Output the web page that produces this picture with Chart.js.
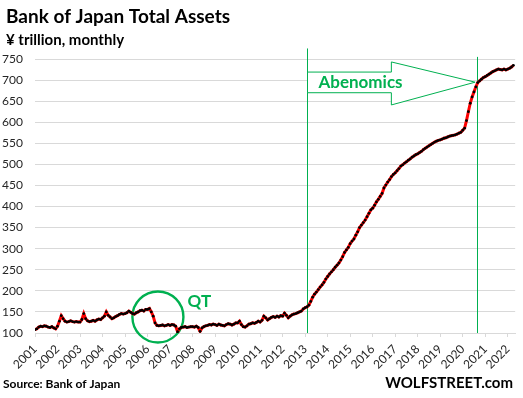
<!DOCTYPE html>
<html>
<head>
<meta charset="utf-8">
<script src="https://cdn.jsdelivr.net/npm/chart.js@4.4.0/dist/chart.umd.min.js"></script>
<style>
  html, body { margin: 0; padding: 0; background: #fff; }
  #wrap { position: relative; width: 523px; height: 398px; }
</style>
</head>
<body>
<div id="wrap"><canvas id="boj-chart"></canvas></div>
<script>
// Bank of Japan total assets, ¥ trillion, monthly (Jan 2001 - Apr 2022)
var startYear = 2001;
var yearTicks = [2001, 2002, 2003, 2004, 2005, 2006, 2007, 2008, 2009, 2010, 2011,
                 2012, 2013, 2014, 2015, 2016, 2017, 2018, 2019, 2020, 2021, 2022];
var valueTicks = [100, 150, 200, 250, 300, 350, 400, 450, 500, 550, 600, 650, 700, 750];

var assets2001 = [108, 110, 114, 116, 115, 117, 116, 114, 113, 115, 112, 110];
var assets2002 = [116, 128, 141, 134, 128, 126, 127, 129, 127, 126, 127, 126];
var assets2003 = [126, 132, 146, 134, 129, 127, 128, 130, 128, 131, 133, 132];
var assets2004 = [136, 140, 150, 142, 138, 134, 136, 139, 141, 144, 146, 145];
var assets2005 = [146, 148, 152, 149, 146, 145, 148, 150, 153, 154, 152, 156];
var assets2006 = [156, 158, 150, 140, 124, 118, 117, 118, 119, 117, 118, 120];
var assets2007 = [118, 120, 119, 116, 103, 110, 113, 114, 115, 113, 114, 115];
var assets2008 = [115, 114, 116, 113, 104, 112, 115, 117, 118, 120, 119, 121];
var assets2009 = [120, 118, 121, 119, 118, 117, 120, 122, 121, 119, 121, 124];
var assets2010 = [124, 128, 120, 115, 114, 117, 121, 122, 124, 123, 125, 128];
var assets2011 = [126, 130, 140, 136, 131, 134, 137, 139, 137, 140, 138, 141];
var assets2012 = [140, 147, 142, 136, 140, 143, 145, 146, 148, 150, 152, 157];
var assets2013 = [160, 162, 166, 175, 185, 192, 197, 203, 209, 214, 220, 228];
var assets2014 = [234, 240, 245, 250, 256, 261, 266, 273, 281, 291, 297, 303];
var assets2015 = [312, 318, 323, 332, 340, 350, 356, 362, 368, 376, 384, 392];
var assets2016 = [396, 403, 411, 417, 424, 431, 444, 451, 458, 464, 471, 476];
var assets2017 = [480, 485, 490, 496, 499, 503, 506, 510, 513, 517, 520, 523];
var assets2018 = [525, 528, 531, 535, 538, 541, 544, 547, 550, 553, 555, 557];
var assets2019 = [558, 560, 562, 563, 565, 567, 568, 569, 570, 572, 574, 576];
var assets2020 = [581, 586, 604, 625, 645, 660, 672, 684, 694, 698, 702, 706];
var assets2021 = [708, 711, 714, 717, 720, 722, 724, 726, 725, 724, 726, 724];
var assets2022 = [726, 728, 731, 735];

// annotation anchors, in (year, ¥ trillion)
var qtMark = { x: 2006.46, y: 138, label: "QT", labelX: 2008.3, labelY: 174 };
var abeStart = { x: 2013.1, top: 775 };
var abeEnd = { x: 2020.64, top: 755 };
var abeArrow = { headX: 2016.83, bodyTop: 719, bodyBottom: 670, headTop: 743, headBottom: 641, tipY: 695, label: "Abenomics" };

var green = "#00b050";

var allAssets = [].concat(assets2001, assets2002, assets2003, assets2004, assets2005,
  assets2006, assets2007, assets2008, assets2009, assets2010, assets2011, assets2012,
  assets2013, assets2014, assets2015, assets2016, assets2017, assets2018, assets2019,
  assets2020, assets2021, assets2022);

var points = allAssets.map(function (v, i) {
  return { x: startYear + i / 12, y: v };
});

var annotations = {
  id: "annotations",
  beforeDatasetsDraw: function (chart) {
    var ctx = chart.ctx;
    var xs = chart.scales.x, ys = chart.scales.y;
    ctx.save();

    // vertical markers
    ctx.fillStyle = green;
    [abeStart, abeEnd].forEach(function (m) {
      var px = Math.round(xs.getPixelForValue(m.x));
      var top = ys.getPixelForValue(m.top);
      ctx.fillRect(px, top, 1, ys.getPixelForValue(100) - top);
    });

    // arrow
    ctx.strokeStyle = green;
    ctx.lineWidth = 1;
    var x0 = Math.round(xs.getPixelForValue(abeStart.x)) + 0.5;
    var xh = xs.getPixelForValue(abeArrow.headX);
    var xt = xs.getPixelForValue(abeEnd.x) - 2;
    ctx.beginPath();
    ctx.moveTo(x0, ys.getPixelForValue(abeArrow.bodyTop));
    ctx.lineTo(xh, ys.getPixelForValue(abeArrow.bodyTop));
    ctx.lineTo(xh, ys.getPixelForValue(abeArrow.headTop));
    ctx.lineTo(xt, ys.getPixelForValue(abeArrow.tipY));
    ctx.lineTo(xh, ys.getPixelForValue(abeArrow.headBottom));
    ctx.lineTo(xh, ys.getPixelForValue(abeArrow.bodyBottom));
    ctx.lineTo(x0, ys.getPixelForValue(abeArrow.bodyBottom));
    ctx.closePath();
    ctx.fillStyle = "#ffffff";
    ctx.fill();
    ctx.stroke();

    ctx.fillStyle = green;
    ctx.font = "bold 17px Lato";
    ctx.textBaseline = "middle";
    ctx.textAlign = "left";
    ctx.fillText(abeArrow.label, x0 + 11, ys.getPixelForValue(abeArrow.tipY));

    // QT circle
    ctx.lineWidth = 2.4;
    ctx.beginPath();
    ctx.arc(xs.getPixelForValue(qtMark.x), ys.getPixelForValue(qtMark.y), 25.5, 0, Math.PI * 2);
    ctx.stroke();
    ctx.font = "bold 17px Lato";
    ctx.textAlign = "center";
    ctx.fillText(qtMark.label, xs.getPixelForValue(qtMark.labelX), ys.getPixelForValue(qtMark.labelY));
    ctx.restore();
  },
  afterDraw: function (chart) {
    var ctx = chart.ctx;
    ctx.save();
    ctx.fillStyle = "#000000";
    ctx.textAlign = "left";
    ctx.textBaseline = "alphabetic";
    ctx.font = "bold 19px Lato";
    ctx.fillText("Bank of Japan Total Assets", 6, 23);
    ctx.font = "bold 15px Lato";
    ctx.fillText("¥ trillion, monthly", 6, 45);
    ctx.font = "bold 12px Lato";
    ctx.fillText("Source: Bank of Japan", 3, 388);
    ctx.textAlign = "right";
    ctx.font = "bold 15px Lato";
    ctx.fillText("WOLFSTREET.com", 513, 388);
    ctx.restore();
  }
};

var ctx = document.getElementById("boj-chart").getContext("2d");
new Chart(ctx, {
  type: "line",
  data: {
    datasets: [{
      label: "Total assets",
      data: points,
      borderColor: "#ff0000",
      borderWidth: 3,
      tension: 0,
      pointRadius: 1.4,
      pointBorderWidth: 0,
      pointBackgroundColor: "#000000",
      fill: false
    }]
  },
  options: {
    responsive: true,
    maintainAspectRatio: false,
    animation: false,
    layout: { padding: { top: 59, right: 2, bottom: 0, left: 0 } },
    plugins: {
      legend: { display: false },
      tooltip: { enabled: false }
    },
    scales: {
      x: {
        type: "linear",
        min: startYear,
        max: 2022.33,
        afterFit: function (axis) { axis.height = 65; },
        afterBuildTicks: function (axis) {
          axis.ticks = yearTicks.map(function (y) { return { value: y }; });
        },
        grid: {
          drawOnChartArea: false,
          drawTicks: true,
          tickLength: 4,
          color: "#d9d9d9"
        },
        border: { display: true, color: "#d9d9d9" },
        ticks: {
          autoSkip: false,
          maxRotation: 45,
          minRotation: 45,
          padding: 5,
          color: "#262626",
          font: { size: 12, family: "Lato" },
          callback: function (v) { return String(v); }
        }
      },
      y: {
        min: 100,
        max: 750,
        afterFit: function (axis) { axis.width = 35; },
        afterBuildTicks: function (axis) {
          axis.ticks = valueTicks.map(function (v) { return { value: v }; });
        },
        grid: { color: "#d9d9d9", drawTicks: false },
        border: { display: false },
        ticks: {
          padding: 12,
          color: "#262626",
          font: { size: 12, family: "Lato" }
        }
      }
    }
  },
  plugins: [annotations]
});
</script>
</body>
</html>
